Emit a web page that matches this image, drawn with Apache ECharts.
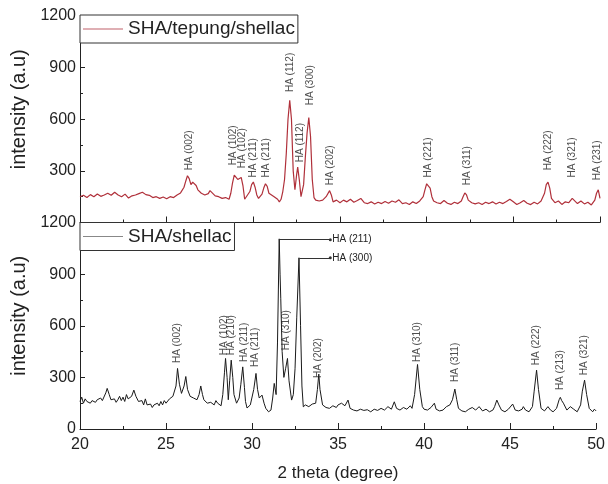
<!DOCTYPE html>
<html>
<head>
<meta charset="utf-8">
<script src="https://cdn.jsdelivr.net/npm/echarts@6/dist/echarts.min.js"></script>
<style>html,body{margin:0;padding:0;background:#fff}#c{width:608px;height:484px}</style>
</head>
<body>
<div id="c"></div>
<script>
// ---- data: [2theta (degree), intensity (a.u)] ----
const topName = 'SHA/tepung/shellac';
const bottomName = 'SHA/shellac';
const xTicks = [20, 25, 30, 35, 40, 45, 50];
const yTicks = [0, 300, 600, 900, 1200];

const topSeries = [
[20.0,150],[20.2,158],[20.4,145],[20.6,162],[20.8,150],[21.0,166],[21.2,152],[21.4,160],[21.6,170],[21.8,158],
[22.0,176],[22.2,160],[22.4,150],[22.6,165],[22.8,142],[23.0,155],[23.2,160],[23.4,168],[23.6,176],[23.8,162],
[24.0,158],[24.2,145],[24.4,150],[24.6,140],[24.8,148],[25.0,138],[25.2,150],[25.4,145],[25.6,160],[25.8,172],
[26.0,205],[26.1,240],[26.2,272],[26.3,255],[26.4,220],[26.5,235],[26.6,245],[26.7,215],[26.8,190],[27.0,170],
[27.2,160],[27.4,168],[27.5,185],[27.6,175],[27.8,155],[28.0,150],[28.2,140],[28.4,145],[28.6,135],[28.7,170],
[28.8,230],[28.9,275],[29.0,285],[29.1,250],[29.2,240],[29.3,262],[29.4,215],[29.5,135],[29.6,140],[29.8,180],
[29.9,220],[30.0,235],[30.1,205],[30.2,160],[30.3,140],[30.5,165],[30.6,200],[30.7,225],[30.8,210],[30.9,170],
[31.0,160],[31.2,150],[31.4,135],[31.5,120],[31.6,135],[31.7,180],[31.8,250],[31.9,400],[32.0,600],[32.1,710],
[32.2,600],[32.3,300],[32.4,190],[32.5,280],[32.56,322],[32.65,250],[32.75,150],[32.8,140],[32.9,220],[33.0,380],
[33.1,520],[33.2,610],[33.3,500],[33.4,250],[33.5,145],[33.6,130],[33.8,125],[34.0,130],[34.2,150],[34.4,185],
[34.5,160],[34.6,120],[34.8,130],[35.0,115],[35.2,130],[35.4,120],[35.6,135],[35.8,118],[36.0,128],[36.2,140],
[36.4,115],[36.6,110],[36.8,120],[37.0,108],[37.2,118],[37.4,110],[37.6,122],[37.8,112],[38.0,125],[38.2,118],
[38.4,132],[38.6,110],[38.8,115],[39.0,105],[39.2,120],[39.4,110],[39.6,125],[39.8,150],[39.9,190],[40.0,225],
[40.1,235],[40.2,200],[40.3,150],[40.4,125],[40.6,115],[40.8,110],[41.0,128],[41.2,112],[41.4,105],[41.6,118],
[41.8,110],[42.0,125],[42.1,150],[42.2,172],[42.3,160],[42.4,130],[42.6,115],[42.8,108],[43.0,115],[43.2,105],
[43.4,118],[43.6,110],[43.8,120],[44.0,108],[44.2,118],[44.4,110],[44.6,122],[44.8,135],[45.0,120],[45.2,105],
[45.4,115],[45.6,128],[45.8,112],[46.0,104],[46.2,118],[46.4,108],[46.6,125],[46.8,170],[46.9,220],[47.0,235],
[47.1,200],[47.2,140],[47.4,115],[47.6,125],[47.8,105],[48.0,120],[48.2,115],[48.4,140],[48.5,130],[48.7,110],
[48.9,125],[49.1,108],[49.3,118],[49.5,102],[49.7,130],[49.8,170],[49.9,190],[50.0,140]
];

const bottomSeries = [
[20.0,160],[20.1,185],[20.2,150],[20.3,175],[20.4,160],[20.5,170],[20.6,150],[20.7,165],[20.8,175],[20.9,155],
[21.0,170],[21.1,160],[21.2,180],[21.3,165],[21.4,175],[21.5,210],[21.58,236],[21.7,200],[21.8,170],[21.9,160],
[22.0,175],[22.1,155],[22.2,170],[22.3,190],[22.4,165],[22.5,185],[22.6,160],[22.7,200],[22.8,175],[22.9,165],
[23.0,190],[23.13,226],[23.25,190],[23.4,160],[23.5,150],[23.6,165],[23.7,140],[23.8,175],[23.9,140],[24.0,130],
[24.1,145],[24.2,125],[24.3,140],[24.4,130],[24.5,150],[24.6,135],[24.7,160],[24.8,140],[24.9,165],[25.0,150],
[25.1,140],[25.2,175],[25.3,165],[25.4,190],[25.5,180],[25.58,250],[25.67,352],[25.78,260],[25.9,207],[26.05,250],
[26.15,305],[26.25,230],[26.4,190],[26.5,200],[26.6,180],[26.8,170],[26.92,200],[27.02,250],[27.12,200],[27.2,170],
[27.4,150],[27.6,155],[27.8,140],[27.9,165],[28.0,150],[28.2,135],[28.3,200],[28.4,330],[28.46,410],[28.55,300],
[28.62,170],[28.7,280],[28.79,400],[28.88,300],[28.95,200],[29.1,150],[29.25,180],[29.35,260],[29.46,361],[29.56,240],
[29.62,160],[29.71,122],[29.8,130],[29.9,140],[30.0,150],[30.1,230],[30.23,323],[30.32,230],[30.42,180],[30.5,185],
[30.58,197],[30.7,150],[30.8,120],[30.96,100],[31.1,110],[31.2,180],[31.29,265],[31.4,200],[31.48,500],[31.58,1105],
[31.63,900],[31.67,760],[31.75,450],[31.85,300],[31.95,350],[32.06,410],[32.15,280],[32.3,168],[32.4,200],[32.5,350],
[32.6,650],[32.73,995],[32.82,600],[32.9,250],[32.98,129],[33.1,140],[33.3,130],[33.5,145],[33.7,150],[33.8,230],
[33.88,319],[33.95,230],[34.1,140],[34.3,125],[34.5,120],[34.7,135],[34.9,125],[35.0,140],[35.2,150],[35.4,135],
[35.58,168],[35.7,120],[35.9,110],[36.1,105],[36.3,115],[36.5,108],[36.7,112],[36.9,100],[37.1,115],[37.3,108],
[37.5,120],[37.7,110],[37.9,130],[38.1,115],[38.27,158],[38.4,120],[38.6,110],[38.8,125],[39.0,115],[39.2,135],
[39.3,120],[39.45,200],[39.62,375],[39.75,230],[39.9,130],[40.0,115],[40.2,110],[40.4,125],[40.6,150],[40.7,115],
[40.9,105],[41.1,110],[41.3,130],[41.5,140],[41.65,170],[41.79,232],[41.9,170],[42.0,120],[42.2,105],[42.4,100],
[42.6,115],[42.8,125],[43.0,110],[43.2,130],[43.4,105],[43.6,115],[43.8,100],[44.0,110],[44.1,130],[44.23,168],
[44.35,140],[44.5,110],[44.7,100],[44.9,115],[45.0,120],[45.15,145],[45.3,110],[45.5,105],[45.7,115],[45.77,130],
[45.9,110],[46.1,100],[46.3,130],[46.4,220],[46.54,342],[46.65,230],[46.8,120],[47.0,105],[47.2,130],[47.35,110],
[47.5,100],[47.7,120],[47.85,170],[47.92,184],[48.0,165],[48.1,150],[48.3,110],[48.5,130],[48.7,115],[48.9,100],
[49.1,140],[49.2,220],[49.33,284],[49.45,200],[49.6,120],[49.8,100],[49.9,115],[50.0,105]
];

// peak labels: [2theta, intensity at label base, text]
const topLabels = [
[26.29,303,'HA (002)'],[28.83,332,'HA (102)'],[29.35,315,'HA (102)'],[29.98,262,'HA (211)'],
[30.73,262,'HA (211)'],[32.12,758,'HA (112)'],[32.69,350,'HA (112)'],[33.27,682,'HA (300)'],
[34.42,216,'HA (202)'],[40.08,262,'HA (221)'],[42.33,216,'HA (311)'],[47.0,303,'HA (222)'],
[48.38,262,'HA (321)'],[49.83,245,'HA (231)']
];
const bottomLabels = [
[25.65,383,'HA (002)'],[28.37,429,'HA (102)'],[28.77,429,'HA (210)'],[29.52,389,'HA (211)'],
[30.21,360,'HA (211)'],[32.0,458,'HA (310)'],[33.85,296,'HA (202)'],[39.62,389,'HA (310)'],
[41.81,273,'HA (311)'],[46.54,371,'HA (222)'],[47.92,226,'HA (213)'],[49.31,313,'HA (321)']
];
// leader lines: [peak 2theta, peak intensity, end 2theta, text]
const bottomLeaders = [
[31.6,1100,34.55,'HA (211)'],
[32.75,995,34.55,'HA (300)']
];

const FONT = 'Liberation Sans, Arial, sans-serif';
const TXT = '#222';

function xAxis(gridIndex, showLabels) {
  return {
    type: 'value', gridIndex, min: 20, max: 50, interval: 5,
    axisLine: {show: true, lineStyle: {color: TXT, width: 1}},
    axisTick: {show: true, inside: true, length: 6, lineStyle: {color: TXT}},
    minorTick: {show: true, splitNumber: 2, length: 3, lineStyle: {color: TXT}},
    splitLine: {show: false},
    axisLabel: {show: showLabels, fontSize: 16, color: TXT, fontFamily: FONT, margin: 8,
      formatter: v => String(v)},
    name: showLabels ? '2 theta (degree)' : '',
    nameLocation: 'middle', nameGap: 36,
    nameTextStyle: {fontSize: 17, color: TXT, fontFamily: FONT}
  };
}
function yAxis(gridIndex, showMin) {
  return {
    type: 'value', gridIndex, min: 0, max: 1200, interval: 300,
    axisLine: {show: true, lineStyle: {color: TXT, width: 1}},
    axisTick: {show: true, inside: true, length: 5, lineStyle: {color: TXT}},
    minorTick: {show: true, splitNumber: 2, length: 3, lineStyle: {color: TXT}},
    splitLine: {show: false},
    axisLabel: {fontSize: 16, color: TXT, fontFamily: FONT, margin: 4, showMinLabel: showMin,
      formatter: v => String(v)},
    name: 'intensity (a.u)', nameLocation: 'middle', nameGap: 48,
    nameTextStyle: {fontSize: 20, color: TXT, fontFamily: FONT, padding: [0, 0, 0, 20]}
  };
}
function labelSeries(name, xi, labels) {
  return {
    name, type: 'scatter', xAxisIndex: xi, yAxisIndex: xi, symbolSize: 0, silent: true,
    data: labels.map(l => ({value: [l[0], l[1]], label: {formatter: l[2]}})),
    label: {show: true, position: [0, 0], rotate: 90, align: 'left', verticalAlign: 'middle',
      fontSize: 10, color: TXT, fontFamily: FONT},
    z: 5
  };
}
function legendBox(name, top, iconColor) {
  return {
    data: [{name, itemStyle: {color: iconColor}}], left: 80, top, orient: 'horizontal',
    icon: 'rect', itemWidth: 40, itemHeight: 1.2, itemGap: 5,
    padding: [3, 3, 3, 3], borderColor: '#333', borderWidth: 1, borderRadius: 0, backgroundColor: '#fff',
    textStyle: {fontSize: 19, color: TXT, fontFamily: FONT, lineHeight: 22}, selectedMode: false
  };
}

const chart = echarts.init(document.getElementById('c'), null, {renderer: 'canvas'});
chart.setOption({
  animation: false,
  backgroundColor: '#fff',
  grid: [
    {left: 80, right: 8, top: 16, height: 206.5},
    {left: 80, right: 8, top: 222.5, height: 206.5}
  ],
  xAxis: [xAxis(0, false), xAxis(1, true)],
  yAxis: [yAxis(0, false), yAxis(1, true)],
  legend: [legendBox(topName, 15, '#c0606a'), legendBox(bottomName, 222.5, '#888')],
  series: [
    {name: topName, type: 'line', xAxisIndex: 0, yAxisIndex: 0, data: topSeries, symbol: 'none',
     lineStyle: {color: '#b0303a', width: 1.2}, itemStyle: {color: '#b0303a'}},
    {name: bottomName, type: 'line', xAxisIndex: 1, yAxisIndex: 1, data: bottomSeries, symbol: 'none',
     lineStyle: {color: '#1a1a1a', width: 1}, itemStyle: {color: '#555'},
     markLine: {
       silent: true, symbol: ['none', 'circle'], symbolSize: 3,
       lineStyle: {color: '#333', width: 1, type: 'solid'},
       label: {show: true, position: 'end', distance: 2, fontSize: 10, color: TXT, fontFamily: FONT},
       data: bottomLeaders.map(d => [
         {coord: [d[0], d[1]], label: {formatter: d[3]}},
         {coord: [d[2], d[1]]}
       ])
     }},
    labelSeries('topLabels', 0, topLabels),
    labelSeries('bottomLabels', 1, bottomLabels)
  ]
});
</script>
</body>
</html>
